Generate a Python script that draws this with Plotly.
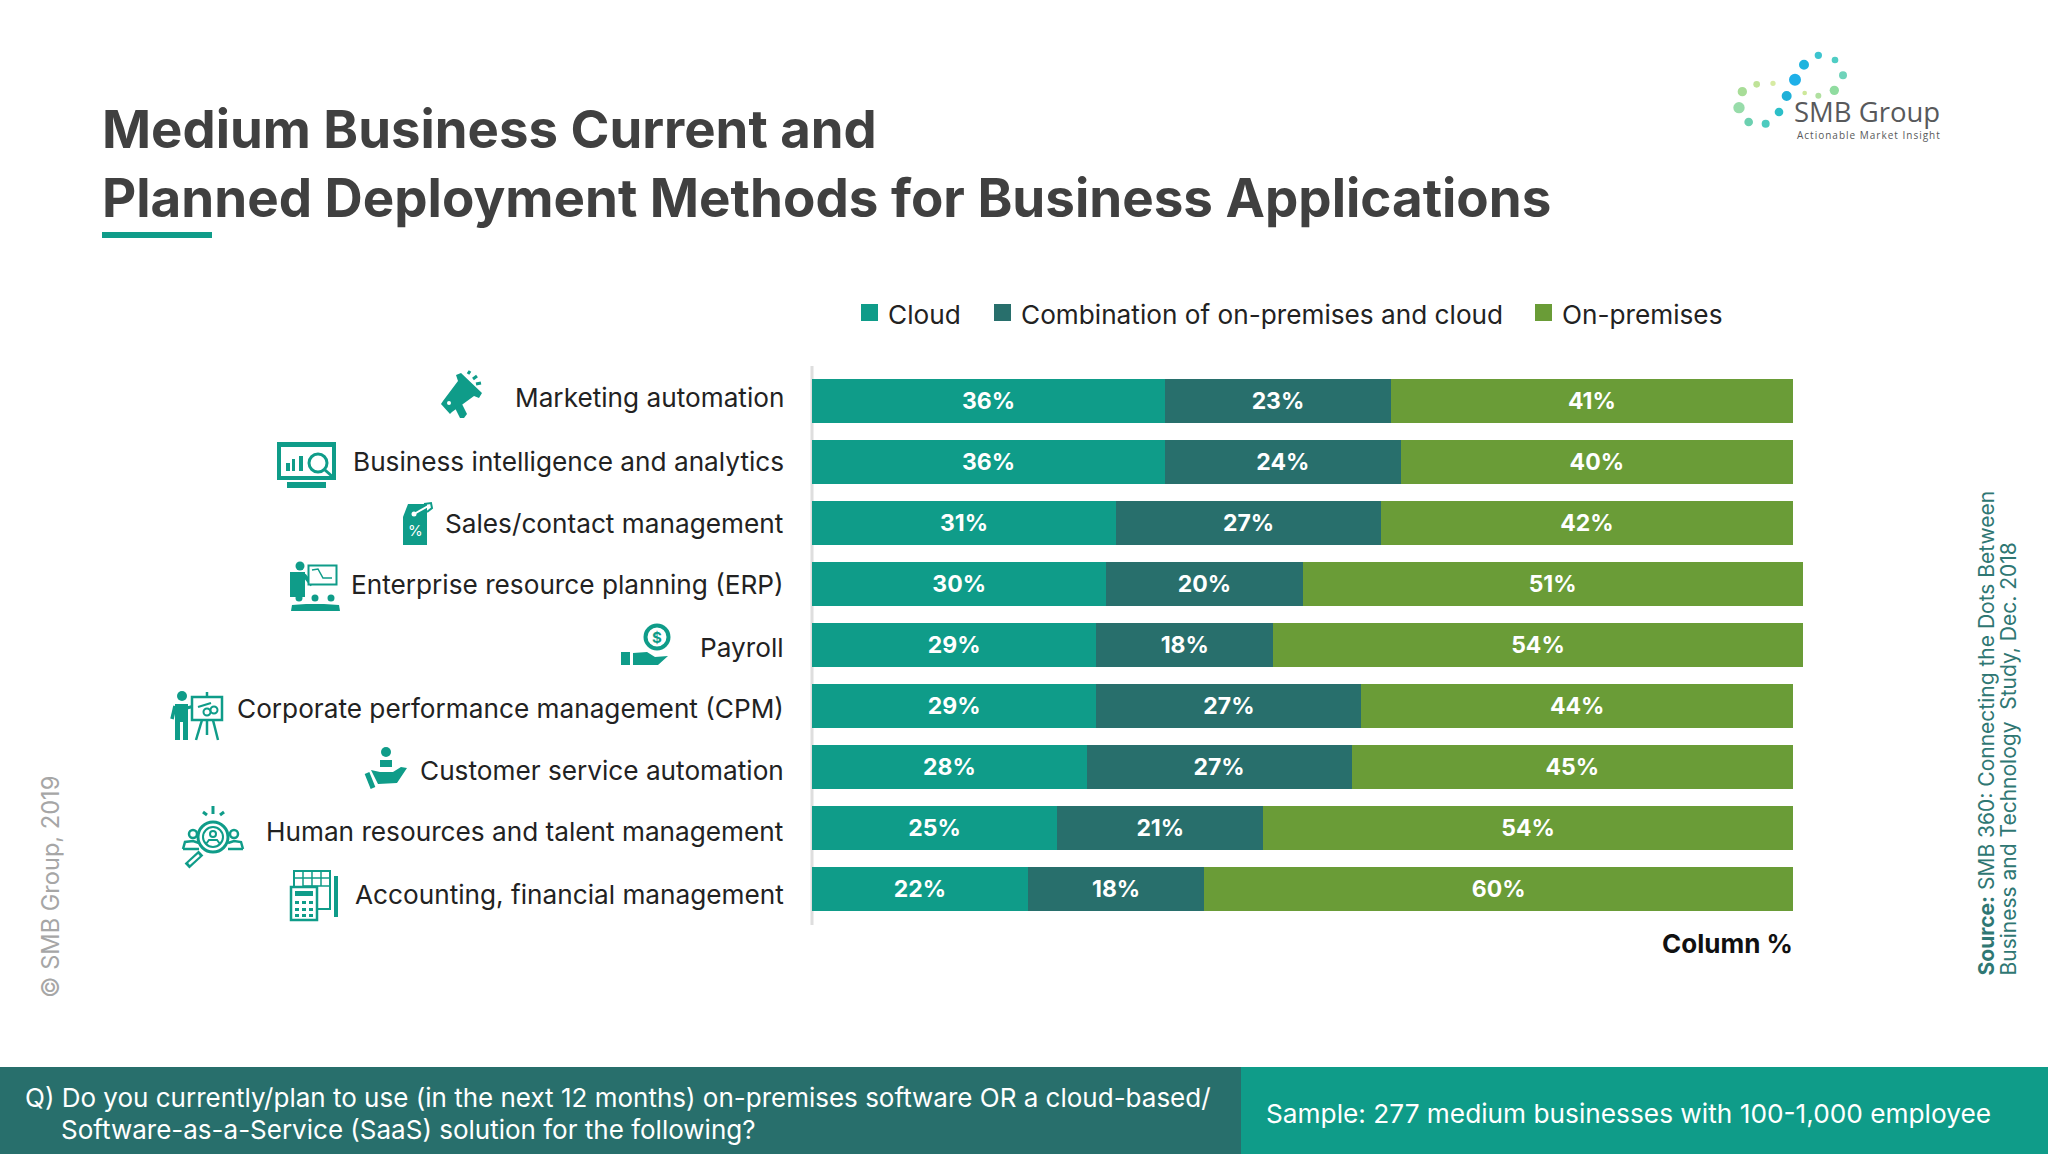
import plotly.graph_objects as go

# values
categories = ['Marketing automation', 'Business intelligence and analytics', 'Sales/contact management',
              'Enterprise resource planning (ERP)', 'Payroll', 'Corporate performance management (CPM)',
              'Customer service automation', 'Human resources and talent management',
              'Accounting, financial management']
cloud = [36, 36, 31, 30, 29, 29, 28, 25, 22]
combination = [23, 24, 27, 20, 18, 27, 27, 21, 18]
on_premises = [41, 40, 42, 51, 54, 44, 45, 54, 60]
series_names = ['Cloud', 'Combination of on-premises and cloud', 'On-premises']

TEAL = '#0f9c89'
DARK = '#286f6c'
GREEN = '#6a9c37'
FONT = 'Inter'
W, H = 2048, 1154
shapes = []
notes = []


def px(x, y):
    return x / W, 1 - y / H


def rect(x0, y0, x1, y1, fill=TEAL, line=None, lw=0):
    a, b = px(x0, y0)
    c, d = px(x1, y1)
    shapes.append(dict(type='rect', xref='paper', yref='paper', x0=a, y0=b, x1=c, y1=d, fillcolor=fill,
                       line=dict(color=line or fill, width=lw)))


def circle(cx, cy, r, fill=TEAL, line=None, lw=0):
    a, b = px(cx - r, cy - r)
    c, d = px(cx + r, cy + r)
    shapes.append(dict(type='circle', xref='paper', yref='paper', x0=a, y0=b, x1=c, y1=d, fillcolor=fill,
                       line=dict(color=line or fill, width=lw)))


def path(points, fill=TEAL, line=None, lw=0, close=True):
    coords = [px(x, y) for x, y in points]
    d = 'M' + ' L'.join(f'{a:.5f},{b:.5f}' for a, b in coords) + (' Z' if close else '')
    shapes.append(dict(type='path', xref='paper', yref='paper', path=d, fillcolor=fill if close else 'rgba(0,0,0,0)',
                       line=dict(color=line or fill, width=lw)))


def stroke(points, width=2, color=TEAL):
    path(points, fill=color, line=color, lw=width, close=False)


def text(x, y, s, size, color='#222222', xanchor='left', yanchor='middle', angle=0, font=FONT):
    a, b = px(x, y)
    notes.append(dict(xref='paper', yref='paper', x=a, y=b, text=s, showarrow=False, xanchor=xanchor,
                      yanchor=yanchor, textangle=angle, align='left', font=dict(family=font, size=size, color=color)))


def draw_icons():
    # megaphone
    path([(456, 375), (461, 373), (482, 393), (479, 398), (474, 396), (452, 412), (450, 414), (441, 404), (443, 401), (458, 381)])
    path([(455, 408), (462, 404), (467, 414), (464, 418), (460, 418)])
    circle(449, 403, 2, 'white')
    stroke([(468, 374), (470, 371)], 3)
    stroke([(473, 379), (477, 376)], 3)
    stroke([(476, 384), (481, 383)], 3)
    # monitor and lens
    rect(277, 442, 336, 480)
    rect(281, 447, 332, 476, 'white')
    rect(286, 463, 290, 471)
    rect(292, 459, 295, 471)
    rect(299, 456, 303, 471)
    circle(318, 463, 9, 'white', TEAL, 3)
    stroke([(325, 470), (334, 478)], 3)
    rect(287, 482, 326, 488)
    # price tag
    path([(403, 517), (408, 504), (427, 504), (427, 545), (403, 545)])
    circle(414, 514, 2.5, 'white')
    stroke([(414, 514), (430, 505)], 2, 'white')
    stroke([(424, 504), (431, 503), (432, 508), (427, 512)], 2)
    text(415, 530, '%', 15, 'white', 'center')
    # presenter with audience (ERP)
    circle(300, 566, 4.5)
    rect(290, 572, 305, 597)
    stroke([(304, 575), (312, 585)], 4)
    rect(308.5, 565.5, 336.5, 584.5, 'white', TEAL, 2)
    stroke([(312, 570), (318, 569), (323, 578), (332, 578)], 1.5)
    for cx in (299, 315, 331):
        circle(cx, 598, 3.5)
    path([(291, 611), (292, 605), (306, 604), (324, 604), (339, 605), (340, 611)])
    # payroll hand and coin
    circle(657, 637, 11.5, 'white', TEAL, 4)
    text(657, 637, '<b>$</b>', 15, TEAL, 'center')
    rect(621, 652, 630, 665)
    path([(633, 653), (647, 652), (655, 657), (668, 656), (658, 665), (633, 665)])
    # presenter with easel (CPM)
    circle(182, 696, 5)
    rect(175, 704, 188, 722)
    rect(175, 722, 180, 740)
    rect(183, 722, 188, 740)
    stroke([(172, 719), (175, 706)], 3.5)
    stroke([(187, 708), (205, 703)], 3)
    rect(192, 697, 222, 720, 'white', TEAL, 2.5)
    stroke([(207, 692), (207, 697)], 2.5)
    stroke([(202, 720), (196, 740)], 2.5)
    stroke([(213, 720), (218, 740)], 2.5)
    stroke([(207, 720), (207, 735)], 2.5)
    circle(207, 712, 3.5, 'white', TEAL, 2)
    circle(214, 710, 3.5, 'white', TEAL, 2)
    stroke([(198, 707), (211, 703)], 2)
    # customer service
    circle(386, 752, 5)
    path([(380, 767), (380, 760), (392, 760), (392, 767)])
    path([(371, 770), (380, 772), (393, 772), (401, 767), (407, 768), (397, 783), (378, 784)])
    stroke([(367, 773), (373, 788)], 5)
    # HR magnifier
    for pts in ([(183, 849), (185, 842), (193, 841), (199, 843)], [(243, 849), (241, 842), (234, 841), (228, 843)]):
        stroke(pts, 2.5)
    stroke([(183, 849), (199, 849)], 2.5)
    stroke([(243, 849), (228, 849)], 2.5)
    circle(193, 834, 4, 'white', TEAL, 2.5)
    circle(234, 834, 4, 'white', TEAL, 2.5)
    circle(213, 837, 15, 'white', TEAL, 3)
    circle(213, 837, 10, 'white', TEAL, 2)
    circle(213, 834, 3, 'white', TEAL, 2)
    stroke([(206, 844), (209, 840), (217, 840), (220, 844)], 2)
    stroke([(201, 853), (187, 866)], 7)
    stroke([(199, 855), (189, 864)], 2.5, 'white')
    stroke([(213, 806), (213, 814)], 3)
    stroke([(203, 812), (207, 815)], 3)
    stroke([(224, 812), (220, 815)], 3)
    # calculator and sheet
    rect(294, 871, 330, 909, 'white', TEAL, 2)
    for gx in (303, 312, 321):
        stroke([(gx, 871), (gx, 886)], 1.5)
    stroke([(294, 878), (330, 878)], 1.5)
    stroke([(303, 886), (330, 886)], 1.5)
    rect(291, 887, 317, 920, 'white', TEAL, 2.5)
    rect(295, 891, 313, 896)
    for row in (901, 908, 914):
        for col in (295, 302, 309):
            rect(col, row, col + 4, row + 3)
    rect(334, 876, 338, 917)


def draw_logo():
    dots = [(505, 76, 11, '#3cc4cf'), (555, 90, 10, '#4fcdc4'), (579, 136, 12, '#6fd3ba'), (553, 181, 14, '#90dca0'),
            (505, 197, 9, '#b0e0a0'), (464, 189, 7, '#cde89a'), (435, 149, 18, '#1fb0e8'), (462, 104, 15, '#1fb4de'),
            (410, 198, 15, '#1fb0d8'), (387, 246, 13, '#2cbfc8'), (347, 281, 12, '#4ccbbf'), (296, 276, 13, '#6cd0b0'),
            (267, 233, 17, '#98dcaa'), (277, 185, 14, '#a8dd98'), (320, 163, 10, '#bfe398'), (369, 160, 8, '#d7eba3')]
    for x, y, r, c in dots:
        circle(1650 + x / 3, 30 + y / 3, r / 3, c)
    text(1792, 112, 'SMB Group', 27.5, '#58595b', font='Open Sans')
    text(1795, 135, '\u200a'.join('Actionable Market Insight'), 10, '#58595b', font='Open Sans')


def create_plot():
    unit = 9.81
    left, top, bottom = 812, 370.8, 919.8
    x_max = 102
    colors = [TEAL, DARK, GREEN]
    fig = go.Figure()
    for name, vals, col in zip(series_names, [cloud, combination, on_premises], colors):
        fig.add_trace(go.Bar(y=categories, x=vals, name=name, orientation='h', marker=dict(color=col, line=dict(width=0)),
                             text=[f'<b>{v}%</b>' for v in vals], textposition='inside', insidetextanchor='middle',
                             textangle=0, constraintext='none', showlegend=False,
                             textfont=dict(family=FONT, size=23, color='white')))

    # legend drawn by hand, the original swatches are larger than plotly's
    for name, col, sx, tx in zip(series_names, colors, [861, 994, 1535], [886, 1019, 1560]):
        rect(sx, 304, sx + 17, 321, col)
        text(tx, 315, name, 26.2)

    # header, footer and side texts
    text(100, 129, '<b>Medium Business Current and</b>', 52.7, '#404040')
    text(100, 198, '<b>Planned Deployment Methods for Business Applications</b>', 52.9, '#404040')
    rect(102, 232, 212, 238)
    rect(0, 1067, 1241, 1154, DARK)
    rect(1241, 1067, 2048, 1154)
    text(23, 1097, 'Q) Do you currently/plan to use (in the next 12 months) on-premises software OR a cloud-based/', 26, 'white')
    text(59, 1129, 'Software-as-a-Service (SaaS) solution for the following?', 26, 'white')
    text(1264, 1113, 'Sample: 277 medium businesses with 100-1,000 employee', 26.25, 'white')
    text(1795, 943, '<b>Column %</b>', 26, '#111111', 'right')
    text(50, 1000, '© SMB Group, 2019', 23.6, '#a6a6a6', 'center', 'bottom', -90)
    text(1986, 978, '<b>Source:</b> SMB 360: Connecting the Dots Between', 21, '#2f7773', 'center', 'bottom', -90)
    text(2008, 978, 'Business and Technology  Study, Dec. 2018', 21, '#2f7773', 'center', 'bottom', -90)
    draw_icons()
    draw_logo()
    a, b = px(812, 366)
    c, d = px(812, 925)
    shapes.append(dict(type='line', xref='paper', yref='paper', x0=a, y0=b, x1=c, y1=d, layer='below',
                       line=dict(color='#dedede', width=3)))

    # row labels do not sit exactly on the bar centres in the original
    label_offset = [-4, -1, 0, 0, 2, 2, 3, 3, 5]
    for cat, off in zip(categories, label_offset):
        notes.append(dict(xref='paper', yref='y', x=786 / W, y=cat, text=cat, showarrow=False, xanchor='right',
                          yshift=-off, font=dict(family=FONT, size=26.2, color='#222222')))

    fig.update_layout(width=W, height=H, margin=dict(l=0, r=0, t=0, b=0, pad=0), barmode='stack', bargap=0.279,
                      plot_bgcolor='white', paper_bgcolor='white', shapes=shapes, annotations=notes,
                      font=dict(family=FONT), showlegend=False)
    fig.update_xaxes(domain=[left / W, (left + x_max * unit) / W], range=[0, x_max], visible=False)
    fig.update_yaxes(domain=[1 - bottom / H, 1 - top / H], range=[8.5, -0.5], type='category',
                     categoryorder='array', categoryarray=categories, showticklabels=False, ticks='', showgrid=False, zeroline=False)
    fig.write_html('out.html', config={'displayModeBar': False}, post_script="document.body.style.margin='0';")


def main():
    create_plot()


if __name__ == '__main__':
    main()
